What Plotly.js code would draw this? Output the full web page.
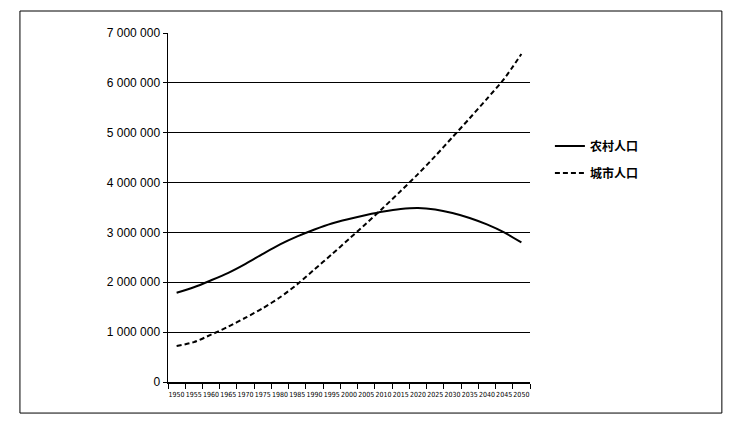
<!DOCTYPE html>
<html>
<head>
<meta charset="utf-8">
<script src="https://cdn.plot.ly/plotly-3.0.1.min.js"></script>
<style>html,body{margin:0;padding:0;background:#fff;}#chart{width:748px;height:430px;}</style>
</head>
<body>
<div id="chart"></div>
<script>
var years = ['1950','1955','1960','1965','1970','1975','1980','1985','1990','1995','2000','2005','2010','2015','2020','2025','2030','2035','2040','2045','2050'];
var rural = [1790000,1900000,2040000,2190000,2370000,2570000,2760000,2920000,3060000,3180000,3270000,3350000,3420000,3470000,3490000,3460000,3390000,3290000,3160000,3000000,2800000];
var urban = [720000,800000,950000,1110000,1290000,1480000,1700000,1960000,2260000,2560000,2870000,3180000,3500000,3830000,4170000,4530000,4910000,5290000,5680000,6080000,6580000];
var ruralName = '农村人口';
var urbanName = '城市人口';

var traces = [
  {x: years, y: rural, name: ruralName, legendgroup: 'r', type: 'scatter', mode: 'lines',
   line: {color: '#000', width: 2, shape: 'spline', smoothing: 0.8}},
  {x: years, y: urban, name: urbanName, legendgroup: 'u', type: 'scatter', mode: 'lines',
   line: {color: '#000', width: 2, dash: '5px,3px', shape: 'spline', smoothing: 0.8}}
];

var layout = {
  width: 748, height: 430,
  margin: {l: 168, r: 218, t: 33, b: 48},
  paper_bgcolor: '#fff', plot_bgcolor: '#fff',
  showlegend: true,
  separators: '. ',
  font: {family: 'Liberation Sans, Arial, sans-serif', color: '#000'},
  xaxis: {
    type: 'category', range: [-0.5, 20.5],
    tickson: 'boundaries', ticks: 'outside', ticklen: 5, tickcolor: '#000', tickwidth: 1,
    showline: true, linecolor: '#000', linewidth: 1.5,
    showgrid: false, zeroline: false, tickangle: 0, ticklabelstandoff: 5,
    tickfont: {family: 'DejaVu Sans Condensed, Liberation Sans Narrow, Liberation Sans, sans-serif', size: 7, color: '#000'}
  },
  yaxis: {
    range: [0, 7000000], dtick: 1000000, tickformat: ',d',
    ticks: 'outside', ticklen: 4, tickcolor: '#000',
    showline: true, linecolor: '#000', linewidth: 1.5,
    showgrid: true, gridcolor: '#000', gridwidth: 1, zeroline: false,
    tickfont: {family: 'Liberation Sans, Arial, sans-serif', size: 12, color: '#000'}
  },
  legend: {
    x: 1.055, y: 0.718, xanchor: 'left', yanchor: 'top',
    bgcolor: 'rgba(0,0,0,0)', borderwidth: 0,
    itemwidth: 30, tracegroupgap: 8,
    font: {family: 'Noto Sans CJK SC, sans-serif', size: 12, color: '#000', weight: 'bold'}
  },
  shapes: [
    {type: 'rect', xref: 'paper', yref: 'paper', x0: -0.409, x1: 1.53, y0: -0.089, y1: 1.063,
     line: {color: '#000', width: 1}, fillcolor: 'rgba(0,0,0,0)', layer: 'below'}
  ]
};

Plotly.newPlot('chart', traces, layout, {displayModeBar: false, staticPlot: true});
</script>
</body>
</html>
